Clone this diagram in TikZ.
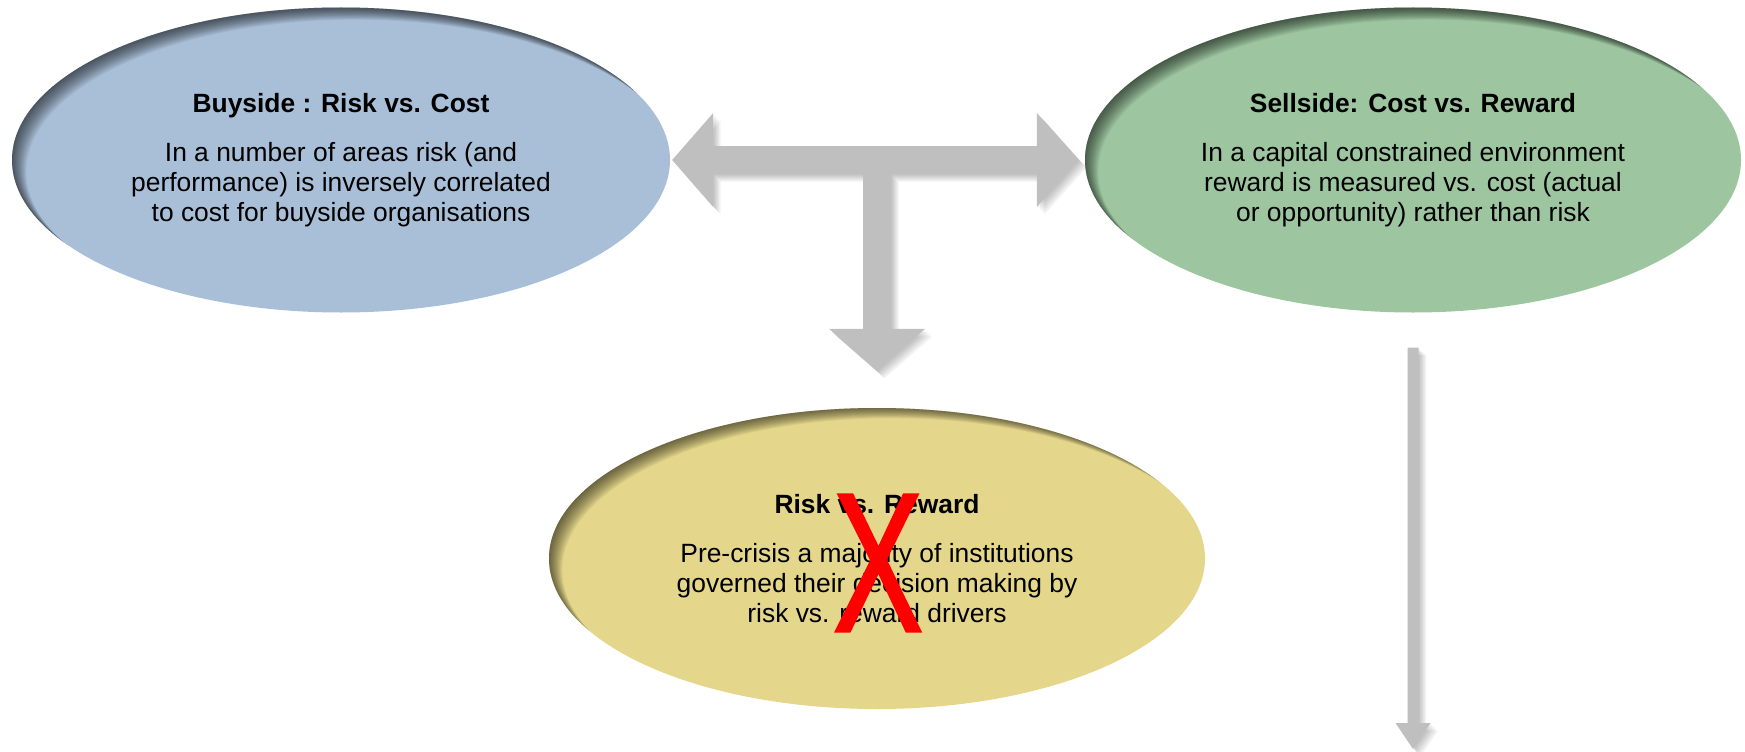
\documentclass[tikz,border=0pt]{standalone}
\usepackage{fontspec}
\setmainfont{Liberation Sans}
\newfontfamily\crossfont[FakeBold=1.5]{Liberation Sans}
\usepackage{graphicx}
\usetikzlibrary{shapes.geometric}

\definecolor{buyfill}{RGB}{169,191,215}
\definecolor{sellfill}{RGB}{157,198,160}
\definecolor{riskfill}{RGB}{228,214,138}
\definecolor{arrowgray}{RGB}{191,191,191}

\tikzset{
  % soft drop shadow towards the lower right, built from stacked layers
  softshadow/.style={
    preaction={fill=black,opacity=.05,transform canvas={shift={(7.5pt,-7.5pt)}}},
    preaction={fill=black,opacity=.05,transform canvas={shift={(6pt,-6pt)}}},
    preaction={fill=black,opacity=.05,transform canvas={shift={(4.5pt,-4.5pt)}}},
    preaction={fill=black,opacity=.05,transform canvas={shift={(3pt,-3pt)}}},
    preaction={fill=black,opacity=.05,transform canvas={shift={(1.5pt,-1.5pt)}}}},
  arrowshape/.style={softshadow, fill=arrowgray},
  % ellipse with a dark rim on its upper left side
  bubble/.style={ellipse, inner sep=0pt, align=center,
    font=\fontsize{26.4pt}{30pt}\selectfont,
    path picture={
      \foreach \k in {1,2,...,13}{
        \fill[black,opacity=.055,even odd rule]
          ([shift={(-500pt,-400pt)}]path picture bounding box.center) rectangle
          ([shift={(500pt,400pt)}]path picture bounding box.center)
          ([shift={(1.1*\k pt,-0.9*\k pt)}]path picture bounding box.center)
            ellipse [x radius=329pt, y radius=152pt];
      }}}
}

\begin{document}
\begin{tikzpicture}[x=1pt,y=-1pt]
\useasboundingbox (0,0) rectangle (1745,752);

\node[bubble, fill=buyfill, minimum width=658pt, minimum height=305pt] (buy) at (341,160)
  {\textbf{Buyside : Risk vs. Cost}\\[19pt]
   In a number of areas risk (and\\
   performance) is inversely correlated\\
   to cost for buyside organisations};

\node[bubble, fill=sellfill, minimum width=656pt, minimum height=305pt] (sell) at (1413,160)
  {\textbf{Sellside: Cost vs. Reward}\\[19pt]
   In a capital constrained environment\\
   reward is measured vs. cost (actual\\
   or opportunity) rather than risk};

\node[bubble, fill=riskfill, minimum width=656pt, minimum height=301pt] (risk) at (877,558.5)
  {\textbf{Risk vs. Reward}\\[19pt]
   Pre-crisis a majority of institutions\\
   governed their decision making by\\
   risk vs. reward drivers};

% crossing-out mark over the risk vs. reward bubble
\node[text=red, inner sep=0pt] (nox) at (878,563)
  {\resizebox{90pt}{136pt}{\crossfont X}};

% T-shaped block arrow between the three bubbles
\coordinate (tl) at ([xshift=2pt]buy.east);
\coordinate (tr) at ([xshift=-6pt]sell.west);
\coordinate (td) at ([yshift=37pt]risk.north);
\coordinate (tj) at (td |- tl);
\fill[arrowshape] (tl) -- ++(41,-47) -- ++(0,33)
  -- ([xshift=-42pt,yshift=14pt]tr) -- ++(0,-33) -- (tr) -- ++(-42,47) -- ++(0,-33)
  -- ([xshift=14pt,yshift=-14pt]tj) -- ([xshift=14pt,yshift=42pt]td) -- ++(34,0)
  -- (td) -- ++(-48,-42) -- ++(34,0)
  -- ([xshift=-14pt,yshift=-14pt]tj) -- ([xshift=41pt,yshift=-14pt]tl) -- ++(0,33)
  -- cycle;

% slim arrow running down from the sellside bubble
\coordinate (sellout) at ([yshift=-35pt]sell.south);
\coordinate (flowend) at (sellout |- 0,749);
\fill[arrowshape] ([xshift=-5.5pt]sellout) -- ([xshift=5.5pt]sellout)
  -- ([xshift=5.5pt,yshift=26pt]flowend) -- ([xshift=17.5pt,yshift=26pt]flowend)
  -- (flowend)
  -- ([xshift=-17.5pt,yshift=26pt]flowend) -- ([xshift=-5.5pt,yshift=26pt]flowend)
  -- cycle;
\end{tikzpicture}
\end{document}
